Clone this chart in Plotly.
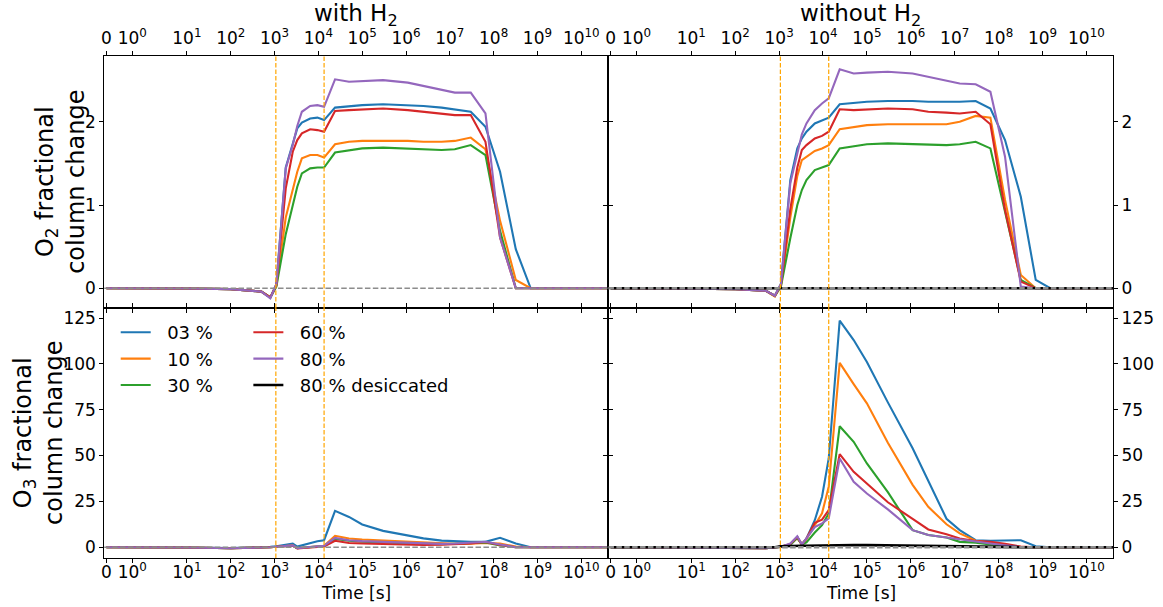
import numpy as np
import plotly.graph_objects as go

# ---------------- data ----------------
time_s = [0, 1, 10, 100, 500, 800, 1100,
          1800, 2600, 3300, 4200, 6500, 9500, 13500,
          24000, 50000, 1e5, 3e5, 1.1e6, 2.5e6, 6.5e6, 1.3e7, 3e7, 6.5e7,
          1.4e8, 3.2e8, 7e8, 1.5e9, 1e10, 4e10]

series_names = ["03 %", "10 %", "30 %", "60 %", "80 %"]
series_colors = ["#1f77b4", "#ff7f0e", "#2ca02c", "#d62728", "#9467bd"]

# O2, with H2
o2_h2_03 = [0, 0, -0.003, -0.01, -0.04, -0.11, 0.05, 1.45, 1.74, 1.92, 1.99, 2.04, 2.05, 2.02,
            2.17, 2.19, 2.20, 2.21, 2.20, 2.19, 2.17, 2.15, 2.12, 1.94, 1.40, 0.47, 0, 0, 0, 0]
o2_h2_10 = [0, 0, -0.003, -0.01, -0.04, -0.11, 0.03, 0.85, 1.17, 1.40, 1.56, 1.60, 1.60, 1.57,
            1.73, 1.76, 1.77, 1.77, 1.77, 1.76, 1.76, 1.77, 1.81, 1.67, 0.81, 0.10, 0, 0, 0, 0]
o2_h2_30 = [0, 0, -0.003, -0.01, -0.04, -0.11, 0.02, 0.65, 1.01, 1.22, 1.38, 1.44, 1.45, 1.45,
            1.63, 1.66, 1.68, 1.69, 1.68, 1.67, 1.66, 1.67, 1.72, 1.60, 0.69, 0.0, 0, 0, 0, 0]
o2_h2_60 = [0, 0, -0.003, -0.01, -0.04, -0.11, 0.04, 1.20, 1.64, 1.78, 1.86, 1.91, 1.90, 1.88,
            2.13, 2.14, 2.15, 2.16, 2.14, 2.12, 2.09, 2.08, 2.08, 1.76, 0.61, 0.0, 0, 0, 0, 0]
o2_h2_80 = [0, 0, -0.003, -0.01, -0.04, -0.12, 0.05, 1.44, 1.72, 1.95, 2.12, 2.19, 2.20, 2.18,
            2.51, 2.48, 2.49, 2.50, 2.47, 2.43, 2.38, 2.35, 2.35, 2.10, 0.61, 0.0, 0, 0, 0, 0]

# O2, without H2
o2_03 = [0, 0, -0.005, -0.01, -0.03, -0.09, 0.05, 1.30, 1.68, 1.80, 1.88, 1.98, 2.02, 2.05,
         2.21, 2.23, 2.24, 2.25, 2.25, 2.24, 2.24, 2.24, 2.25, 2.16, 1.78, 1.10, 0.10, 0, 0, 0]
o2_10 = [0, 0, -0.005, -0.01, -0.03, -0.10, 0.03, 0.85, 1.35, 1.54, 1.58, 1.65, 1.68, 1.72,
         1.91, 1.94, 1.96, 1.97, 1.97, 1.97, 1.97, 2.00, 2.07, 2.05, 1.06, 0.16, 0, 0, 0, 0]
o2_30 = [0, 0, -0.005, -0.01, -0.03, -0.09, 0.02, 0.60, 1.00, 1.18, 1.30, 1.42, 1.45, 1.48,
         1.68, 1.71, 1.73, 1.74, 1.73, 1.72, 1.72, 1.73, 1.76, 1.68, 0.90, 0.10, 0, 0, 0, 0]
o2_60 = [0, 0, -0.005, -0.01, -0.03, -0.09, 0.04, 0.95, 1.45, 1.66, 1.72, 1.80, 1.83, 1.88,
         2.15, 2.14, 2.15, 2.16, 2.15, 2.12, 2.11, 2.10, 2.12, 1.97, 0.94, 0.08, 0, 0, 0, 0]
o2_80 = [0, 0, -0.005, -0.01, -0.03, -0.09, 0.05, 1.26, 1.62, 1.85, 1.98, 2.14, 2.22, 2.28,
         2.63, 2.58, 2.59, 2.60, 2.58, 2.54, 2.49, 2.46, 2.45, 2.36, 1.58, 0.02, 0, 0, 0, 0]
o2_80_desiccated = [0, 0, 0, 0, 0, 0, 0, 0, 0, 0, 0, 0, 0, 0,
                    0, 0, 0, 0, 0, 0, 0, 0, 0, 0, 0, 0, 0, 0, 0, 0]

# O3, with H2
o3_h2_03 = [0, 0, -0.2, -0.5, -0.2, 0.2, 0.5, 1.4, 2.0, 0.3, 1.0, 2.4, 3.2, 3.8,
            19.8, 16.5, 12.4, 8.9, 6.2, 4.8, 3.6, 3.2, 3.0, 2.9, 5.1, 2.0, 0, 0, 0, 0]
o3_h2_10 = [0, 0, -0.2, -0.6, -0.4, 0.0, 0.2, 0.8, 1.0, -0.6, -0.4, 0.0, 0.5, 0.8,
            6.2, 4.7, 4.2, 3.6, 3.0, 2.5, 2.0, 1.8, 1.9, 2.3, 2.0, 0.3, 0, 0, 0, 0]
o3_h2_30 = [0, 0, -0.2, -0.6, -0.4, 0.0, 0.2, 0.6, 0.8, -0.5, -0.3, 0.0, 0.3, 0.6,
            4.5, 3.5, 3.0, 2.5, 2.0, 1.8, 1.6, 1.8, 2.2, 2.6, 1.0, 0.0, 0, 0, 0, 0]
o3_h2_60 = [0, 0, -0.2, -0.6, -0.4, 0.0, 0.2, 0.6, 0.8, -0.7, -0.5, -0.2, 0.2, 0.4,
            3.5, 2.3, 2.0, 1.6, 1.3, 1.2, 1.3, 1.5, 2.0, 2.8, 1.2, 0.0, 0, 0, 0, 0]
o3_h2_80 = [0, 0, -0.2, -0.6, -0.4, 0.0, 0.2, 0.8, 1.0, -0.5, -0.3, 0.1, 0.5, 0.8,
            5.1, 3.8, 3.3, 2.8, 2.2, 1.9, 1.8, 2.0, 2.5, 3.0, 1.5, 0.0, 0, 0, 0, 0]

# O3, without H2
o3_03 = [0, -0.1, -0.3, -0.8, -0.6, -0.2, 0.3, 1.0, 5.6, 1.5, 4.7, 14.7, 27.5, 48.4,
         123.6, 113.0, 101.0, 79.0, 54.0, 36.6, 15.5, 9.3, 3.8, 3.5, 3.8, 3.8, 0.5, 0, 0, 0]
o3_10 = [0, -0.1, -0.3, -0.8, -0.6, -0.2, 0.3, 1.5, 5.0, 1.5, 4.5, 12.0, 18.5, 33.0,
         100.6, 89.0, 78.5, 57.0, 34.0, 22.0, 12.5, 7.5, 3.5, 2.5, 1.0, 0, 0, 0, 0, 0]
o3_30 = [0, -0.1, -0.3, -0.8, -0.6, -0.2, 0.3, 1.5, 5.0, 1.5, 2.6, 8.0, 12.0, 18.4,
         66.0, 57.5, 45.7, 30.0, 9.3, 6.6, 5.3, 2.9, 2.5, 1.5, 0.8, 0, 0, 0, 0, 0]
o3_60 = [0, -0.1, -0.3, -0.8, -0.6, -0.2, 0.3, 1.8, 5.5, 1.5, 4.7, 13.3, 15.0, 20.2,
         50.8, 41.1, 34.8, 24.5, 15.5, 9.7, 7.0, 4.7, 3.4, 2.9, 1.8, 0.3, 0, 0, 0, 0]
o3_80 = [0, -0.1, -0.3, -0.8, -0.6, -0.2, 0.3, 2.0, 6.0, 1.5, 5.0, 11.0, 13.0, 15.7,
         48.4, 35.7, 29.3, 20.6, 9.3, 6.6, 5.3, 4.2, 2.9, 2.0, 1.0, 0, 0, 0, 0, 0]
o3_80_desiccated = [0, 0, 0, 0, 0, 0, 0.5, 0.8, 0.8, 0.8, 0.8, 0.9, 1.0, 1.1,
                    1.3, 1.2, 1.1, 0.9, 0.7, 0.6, 0.5, 0.4, 0.3, 0.2, 0.1, 0, 0, 0, 0, 0]

event_times = [1070, 13500]
x_tick_values = [0, 1, 10, 100, 1e3, 1e4, 1e5, 1e6, 1e7, 1e8, 1e9, 1e10]
x_tick_labels = ["0"] + ["10<sup>%d</sup>" % k for k in range(0, 11)]

# ---------------- symlog-like x transform ----------------
LINTHRESH = 1.88
LINSCALE_ADJ = 1.0 / (1.0 - 0.1)


def symlog(t):
    t = np.asarray(t, dtype=float)
    out = np.where(t <= LINTHRESH, t * LINSCALE_ADJ / LINTHRESH,
                   LINSCALE_ADJ + np.log10(np.maximum(t, 1e-30) / LINTHRESH))
    return out


X = symlog(time_s)
FONT = "DejaVu Sans"
W, H = 1163, 607
TICK_FS = 17
LEG_FS = 18
BIG_FS = 24
TITLE_FS = 23
PAD = "\u00a0\u00a0"  # small gap between legend line and its label

fig = go.Figure()

panels = {
    ("x", "y"): [o2_h2_03, o2_h2_10, o2_h2_30, o2_h2_60, o2_h2_80],
    ("x2", "y2"): [o2_03, o2_10, o2_30, o2_60, o2_80],
    ("x3", "y3"): [o3_h2_03, o3_h2_10, o3_h2_30, o3_h2_60, o3_h2_80],
    ("x4", "y4"): [o3_03, o3_10, o3_30, o3_60, o3_80],
}
desiccated = {("x2", "y2"): o2_80_desiccated, ("x4", "y4"): o3_80_desiccated}

for (xa, ya), vals in panels.items():
    for i, v in enumerate(vals):
        show = (xa == "x3")
        fig.add_trace(go.Scatter(
            x=X, y=v, mode="lines", name=PAD + series_names[i],
            line=dict(color=series_colors[i], width=2.1),
            xaxis=xa, yaxis=ya, showlegend=show,
            legend="legend" if i < 3 else "legend2",
            legendrank=i + 1))
    if (xa, ya) in desiccated:
        fig.add_trace(go.Scatter(
            x=X, y=desiccated[(xa, ya)], mode="lines", name=PAD + "80 % desiccated",
            line=dict(color="black", width=2.6),
            xaxis=xa, yaxis=ya, showlegend=(xa == "x4"),
            legend="legend2", legendrank=6))

# ---------------- layout ----------------
xl = [101.5 / W, 606.5 / W]
xr = [607.0 / W, 1113.0 / W]
yt = [1 - 308.0 / H, 1 - 56.0 / H]
yb = [1 - 558.0 / H, 1 - 308.0 / H]
xrange_u = [-0.05, 11.445]

common_x = dict(range=xrange_u, tickmode="array", tickvals=list(symlog(x_tick_values)),
                ticktext=x_tick_labels, ticks="outside", ticklen=4, tickwidth=1,
                tickcolor="black", showline=True, linecolor="black", linewidth=1,
                mirror="ticks", showgrid=False, zeroline=False,
                tickfont=dict(family=FONT, size=TICK_FS, color="black"))
common_y = dict(ticks="outside", ticklen=4, tickwidth=1, tickcolor="black",
                showline=True, linecolor="black", linewidth=1, mirror="ticks",
                showgrid=False, zeroline=False,
                tickfont=dict(family=FONT, size=TICK_FS, color="black"))

o2_range = [-0.237, 2.79]
o3_range = [-5.9, 130.5]

leg_common = dict(xanchor="left", yanchor="top", bgcolor="rgba(0,0,0,0)",
                  font=dict(family=FONT, size=LEG_FS, color="black"),
                  tracegroupgap=0)

fig.update_layout(
    width=W, height=H, margin=dict(l=0, r=0, t=0, b=0),
    paper_bgcolor="white", plot_bgcolor="white",
    xaxis=dict(domain=xl, anchor="y", side="top", **common_x),
    xaxis2=dict(domain=xr, anchor="y2", side="top", **common_x),
    xaxis3=dict(domain=xl, anchor="y3", side="bottom", ticklabelstandoff=-5, **common_x),
    xaxis4=dict(domain=xr, anchor="y4", side="bottom", ticklabelstandoff=-5, **common_x),
    yaxis=dict(domain=yt, anchor="x", side="left", range=o2_range,
               tickvals=[0, 1, 2], **common_y),
    yaxis2=dict(domain=yt, anchor="x2", side="right", range=o2_range,
                tickvals=[0, 1, 2], **common_y),
    yaxis3=dict(domain=yb, anchor="x3", side="left", range=o3_range,
                tickvals=[0, 25, 50, 75, 100, 125], **common_y),
    yaxis4=dict(domain=yb, anchor="x4", side="right", range=o3_range,
                tickvals=[0, 25, 50, 75, 100, 125], **common_y),
    legend=dict(x=113 / W, y=1 - 314 / H, **leg_common),
    legend2=dict(x=246 / W, y=1 - 314 / H, **leg_common),
)

shapes = []
for xa, ya in [("x", "y"), ("x2", "y2"), ("x3", "y3"), ("x4", "y4")]:
    right = xa in ("x2", "x4")
    shapes.append(dict(type="line", xref=xa + " domain", yref=ya, x0=0, x1=1, y0=0, y1=0,
                       line=dict(color="#8c8c8c", width=2.6 if right else 1.4,
                                 dash="5.5px,2.4px"),
                       layer="above"))
    for et in event_times:
        ux = float(symlog(et))
        shapes.append(dict(type="line", xref=xa, yref=ya + " domain", x0=ux, x1=ux, y0=0, y1=1,
                           line=dict(color="orange", width=1.2, dash="4.5px,2px"),
                           layer="above"))
fig.update_layout(shapes=shapes)

ann = []
ann.append(dict(text="with H<sub>2</sub>", x=(xl[0] + xl[1]) / 2, y=1, xref="paper",
                yref="paper", showarrow=False, font=dict(family=FONT, size=TITLE_FS, color="black"),
                xanchor="center", yanchor="top", yshift=2))
ann.append(dict(text="without H<sub>2</sub>", x=(xr[0] + xr[1]) / 2, y=1, xref="paper",
                yref="paper", showarrow=False, font=dict(family=FONT, size=TITLE_FS, color="black"),
                xanchor="center", yanchor="top", yshift=2))
for xc in [(xl[0] + xl[1]) / 2, (xr[0] + xr[1]) / 2]:
    ann.append(dict(text="Time [s]", x=xc, y=1 - 593 / H, xref="paper", yref="paper",
                    showarrow=False, font=dict(family=FONT, size=TICK_FS, color="black"),
                    xanchor="center", yanchor="middle"))
ann.append(dict(text="O<sub>2</sub> fractional<br>column change", x=57 / W,
                y=(yt[0] + yt[1]) / 2, xref="paper", yref="paper", textangle=-90,
                showarrow=False, font=dict(family=FONT, size=BIG_FS, color="black"),
                xanchor="center", yanchor="middle"))
ann.append(dict(text="O<sub>3</sub> fractional<br>column change", x=35 / W,
                y=(yb[0] + yb[1]) / 2, xref="paper", yref="paper", textangle=-90,
                showarrow=False, font=dict(family=FONT, size=BIG_FS, color="black"),
                xanchor="center", yanchor="middle"))
fig.update_layout(annotations=ann)

fig.write_html("out.html")
